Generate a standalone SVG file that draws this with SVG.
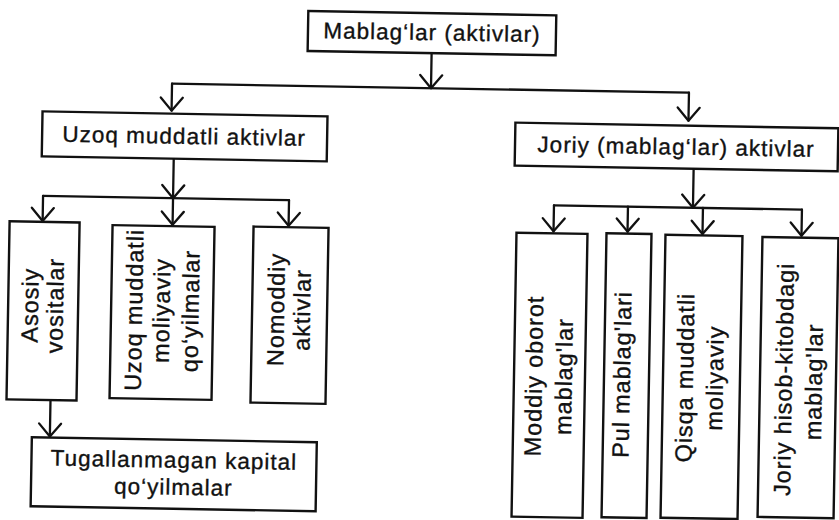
<svg xmlns="http://www.w3.org/2000/svg" width="839" height="520" viewBox="0 0 839 520">
<defs>
<style>
.box{fill:#fff;stroke:#111;stroke-width:2.4}
.t{font-family:"Liberation Sans",Arial,Helvetica,sans-serif;fill:#111;stroke:#111;stroke-width:0.35;text-anchor:middle}
.h{font-size:22.5px;letter-spacing:1px}
.v{font-size:23.5px;letter-spacing:0.9px}
.c{fill:none;stroke:#111;stroke-width:2.3;stroke-linecap:round;stroke-linejoin:round}
</style>
<marker id="ah" markerUnits="userSpaceOnUse" viewBox="-15 -13 17 26" refX="0" refY="0" markerWidth="17" markerHeight="26" orient="auto">
<path d="M-13,-11 L0,0 L-13,11" fill="none" stroke="#111" stroke-width="2.3" stroke-linecap="round" stroke-linejoin="round"/>
</marker>
</defs>
<rect width="839" height="520" fill="#fff"/>
<g transform="rotate(1 420 260)">
<g id="connectors">
<path class="c" d="M428,53 V88" marker-end="url(#ah)"/>
<path class="c" d="M169,88 H686"/>
<path class="c" d="M169,88 V115" marker-end="url(#ah)"/>
<path class="c" d="M686,88 V116" marker-end="url(#ah)"/>
<path class="c" d="M172,163 V202.5" marker-end="url(#ah)"/>
<path class="c" d="M42,202.5 H288"/>
<path class="c" d="M42,202.5 V227.5" marker-end="url(#ah)"/>
<path class="c" d="M172,202.5 V229" marker-end="url(#ah)"/>
<path class="c" d="M288,202.5 V228" marker-end="url(#ah)"/>
<path class="c" d="M53,406.5 V443" marker-end="url(#ah)"/>
<path class="c" d="M692,164 V203" marker-end="url(#ah)"/>
<path class="c" d="M553,203 H801"/>
<path class="c" d="M553,203 V229" marker-end="url(#ah)"/>
<path class="c" d="M627,203 V228" marker-end="url(#ah)"/>
<path class="c" d="M702,203 V229" marker-end="url(#ah)"/>
<path class="c" d="M801,203 V229" marker-end="url(#ah)"/>
</g>
<g id="mablaglar">
<rect class="box" x="304" y="13" width="248" height="40"/>
<text class="t h" x="428" y="40">Mablag‘lar (aktivlar)</text>
</g>
<g id="uzoq">
<rect class="box" x="40" y="118" width="285" height="45"/>
<text class="t h" x="182" y="148">Uzoq muddatli aktivlar</text>
</g>
<g id="joriy">
<rect class="box" x="513" y="121" width="323" height="43"/>
<text class="t h" x="674" y="150">Joriy (mablag‘lar) aktivlar</text>
</g>
<g id="asosiy">
<rect class="box" x="9" y="228.5" width="70" height="178"/>
<text class="t v" transform="translate(39 312) rotate(-90)">Asosiy</text>
<text class="t v" transform="translate(64 312) rotate(-90)">vositalar</text>
</g>
<g id="uzoq-moliyaviy">
<rect class="box" x="112" y="230.5" width="102" height="173"/>
<text class="t v" transform="translate(143 315) rotate(-90)">Uzoq muddatli</text>
<text class="t v" transform="translate(170.5 315) rotate(-90)">moliyaviy</text>
<text class="t v" transform="translate(199.5 315) rotate(-90)">qo‘yilmalar</text>
</g>
<g id="nomoddiy">
<rect class="box" x="253" y="229.5" width="75" height="176"/>
<text class="t v" transform="translate(285 312) rotate(-90)">Nomoddiy</text>
<text class="t v" transform="translate(311 312) rotate(-90)">aktivlar</text>
</g>
<g id="tugallanmagan">
<rect class="box" x="35" y="444" width="285" height="69"/>
<text class="t h" x="177.5" y="472">Tugallanmagan kapital</text>
<text class="t h" x="177.5" y="499">qo‘yilmalar</text>
</g>
<g id="moddiy">
<rect class="box" x="516" y="231" width="71" height="284"/>
<text class="t v" transform="translate(544 374) rotate(-90)">Moddiy oborot</text>
<text class="t v" transform="translate(574 374) rotate(-90)">mablag'lar</text>
</g>
<g id="pul">
<rect class="box" x="606" y="230" width="45" height="284"/>
<text class="t v" transform="translate(632 371) rotate(-90)">Pul mablag'lari</text>
</g>
<g id="qisqa">
<rect class="box" x="665" y="230.5" width="77" height="283"/>
<text class="t v" transform="translate(695 373) rotate(-90)">Qisqa muddatli</text>
<text class="t v" transform="translate(725 373) rotate(-90)">moliyaviy</text>
</g>
<g id="joriy-hisob">
<rect class="box" x="762" y="231" width="76" height="280"/>
<text class="t v" transform="translate(794 373) rotate(-90)">Joriy hisob-kitobdagi</text>
<text class="t v" transform="translate(824 375) rotate(-90)">mablag'lar</text>
</g>
</g>
</svg>
